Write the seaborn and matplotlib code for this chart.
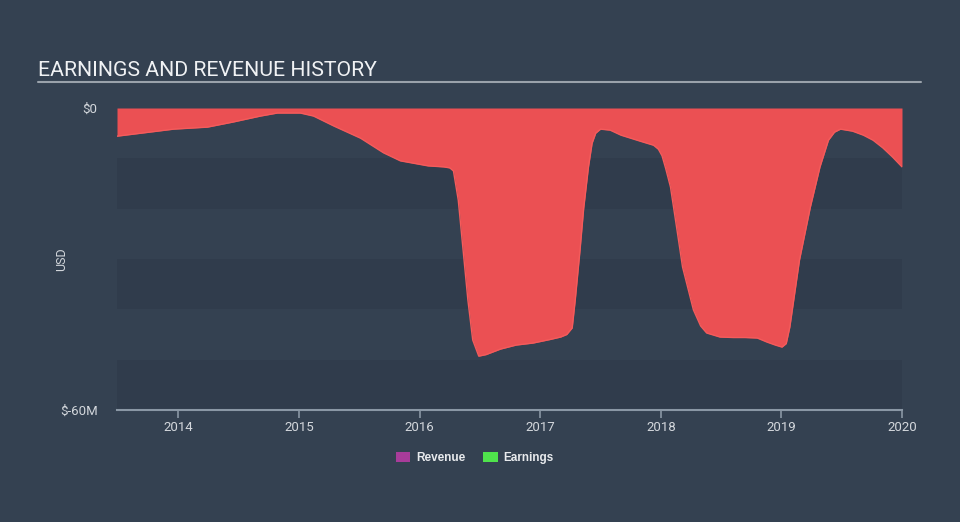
import matplotlib
matplotlib.use("Agg")
import matplotlib.pyplot as plt
import seaborn as sns
import pandas as pd
from matplotlib.patches import Patch
from matplotlib.lines import Line2D

# ---- data ----
years = [2013.49, 2013.96, 2014.24, 2014.45, 2014.68, 2014.82, 2015.01, 2015.12,
         2015.29, 2015.51, 2015.70, 2015.84, 2016.07, 2016.20, 2016.25, 2016.28, 2016.32,
         2016.36, 2016.40, 2016.44, 2016.49, 2016.55, 2016.67,
         2016.80, 2016.94, 2017.08, 2017.17, 2017.22, 2017.265, 2017.29,
         2017.33, 2017.36, 2017.40, 2017.43, 2017.46, 2017.50, 2017.58,
         2017.67, 2017.75, 2017.83, 2017.94, 2017.98, 2018.01, 2018.04, 2018.08,
         2018.13, 2018.18, 2018.27, 2018.33, 2018.38, 2018.49,
         2018.60, 2018.70, 2018.80, 2018.88, 2018.95, 2019.005,
         2019.04, 2019.07, 2019.15, 2019.24, 2019.32, 2019.39, 2019.44,
         2019.49, 2019.59, 2019.68, 2019.76, 2019.84, 2019.92,
         2020.00]
earnings = [-5.6, -4.2, -3.8, -2.8, -1.6, -1.0, -1.0, -1.6,
            -3.6, -6.0, -8.9, -10.5, -11.5, -11.7, -11.9, -12.5, -18.3,
            -28.2, -38.2, -46.1, -49.3, -49.0, -47.9,
            -47.1, -46.7, -46.0, -45.5, -45.0, -43.7, -38.2,
            -28.2, -20.0, -11.7, -7.0, -5.0, -4.2, -4.4,
            -5.4, -6.0, -6.6, -7.4, -8.2, -9.5, -12.0, -15.7,
            -23.6, -31.6, -40.1, -43.3, -44.7, -45.5,
            -45.6, -45.6, -45.7, -46.5, -47.1, -47.5,
            -46.8, -43.5, -30.2, -19.7, -11.7, -6.4, -4.8,
            -4.2, -4.6, -5.4, -6.4, -7.9, -9.7,
            -11.7]
year_ticks = [2014, 2015, 2016, 2017, 2018, 2019, 2020]
y_ticks = [0, -60]
y_tick_labels = ["$0", "$-60M"]
legend_labels = ["Revenue", "Earnings"]
legend_colors = ["#a83c9a", "#4fe34c"]

df = pd.DataFrame({"year": years, "earnings": earnings})

BG = "#344151"
BAND = "#2f3b4b"
RED = "#eb5053"
TXT = "#d3d7dc"

sns.set_theme(style="dark")
plt.rcParams["font.family"] = ["Roboto", "DejaVu Sans"]

fig = plt.figure(figsize=(9.6, 5.22), dpi=100, facecolor=BG)
ax = fig.add_axes([117 / 960, 1 - 410 / 522, (902 - 117) / 960, (410 - 108) / 522])
ax.set_facecolor(BG)

# alternating bands
for lo in (-10, -30, -50):
    ax.axhspan(lo - 10, lo, color=BAND, lw=0, zorder=0, alpha=0.8)

ax.fill_between(df["year"], 0, df["earnings"], color=RED, lw=0, zorder=2)
sns.lineplot(data=df, x="year", y="earnings", ax=ax, color="#f45b5b", lw=1.0,
             zorder=3, legend=False)

ax.set_xlim(2013.49, 2020.0)
ax.set_ylim(-60, 0)
ax.set_xticks(year_ticks)
ax.set_xticklabels([str(y) for y in year_ticks])
ax.set_yticks(y_ticks)
ax.set_yticklabels(y_tick_labels)
ax.tick_params(axis="x", colors="#8a97a5", length=6, width=1.2, pad=2,
               labelcolor=TXT, labelsize=9.5, bottom=True, direction="out")
ax.tick_params(axis="y", length=0, pad=14, labelcolor=TXT, labelsize=9.5)
ax.set_xlabel("")
ax.set_ylabel("USD", color=TXT, fontsize=9)
ax.yaxis.set_label_coords((68 - 117) / 785, 0.5)
ax.grid(False)
for s in ("top", "right", "left"):
    ax.spines[s].set_visible(False)
ax.spines["bottom"].set_color("#8a97a5")
ax.spines["bottom"].set_linewidth(1.5)

# title and rule
fig.text(38 / 960, 1 - 76 / 522, "EARNINGS AND REVENUE HISTORY", color="#f0f2f4",
         fontsize=15.3, ha="left", va="baseline")
fig.add_artist(Line2D([38 / 960, 921 / 960], [1 - 82 / 522, 1 - 82 / 522],
                      color="#9aa2ab", lw=1.5))

handles = [Patch(facecolor=c, edgecolor="none") for c in legend_colors]
leg = fig.legend(handles, legend_labels, loc="center", bbox_to_anchor=(475 / 960, 1 - 458 / 522),
                 ncol=2, frameon=False, handlelength=1.2, handleheight=0.9,
                 columnspacing=1.5, handletextpad=0.5,
                 prop={"family": ["Liberation Sans"], "size": 8.5, "weight": "bold"})
for t in leg.get_texts():
    t.set_color("#e8eaed")

fig.savefig("out.png", dpi=100, facecolor=BG)
